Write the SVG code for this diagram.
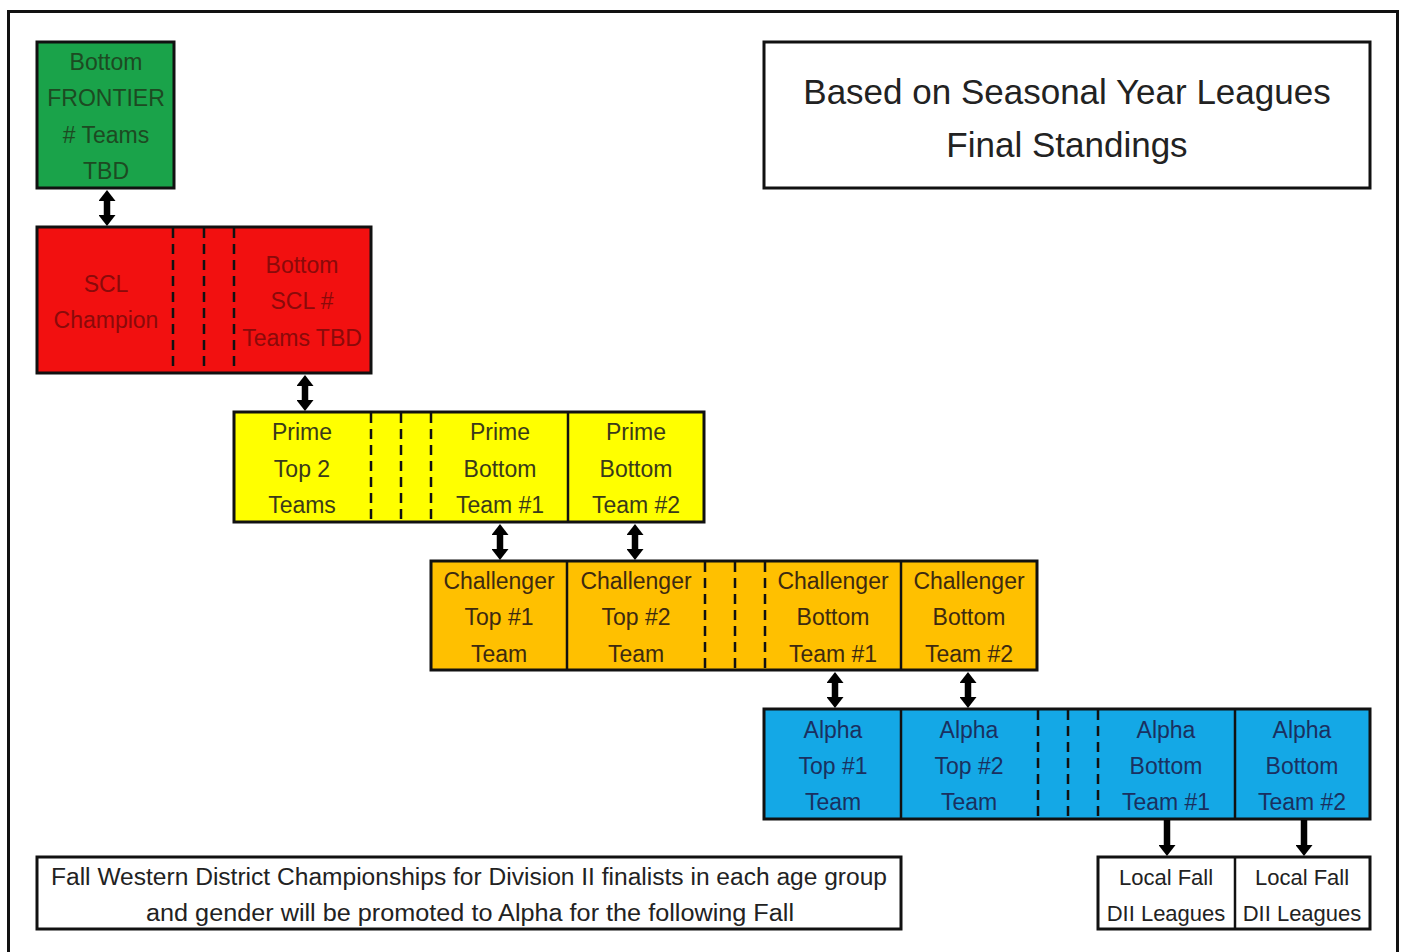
<svg xmlns="http://www.w3.org/2000/svg" width="1401" height="952" viewBox="0 0 1401 952">
<defs>
<marker id="ah" markerUnits="userSpaceOnUse" markerWidth="11" markerHeight="17" refX="0" refY="8.5" orient="auto-start-reverse">
<path d="M0,0 L11,8.5 L0,17 z" fill="#000"/>
</marker>
</defs>
<style>
.box{stroke:#111;stroke-width:3}
.div{stroke:#111;stroke-width:2.5}
.dash{stroke:#111;stroke-width:2.5;stroke-dasharray:10 6}
.t{font-family:"Liberation Sans",Arial,sans-serif;font-size:23px;text-anchor:middle}
.arr{stroke:#000;stroke-width:6.5;fill:none}
</style>
<rect x="0" y="0" width="1401" height="952" fill="#fff"/>
<rect x="8.5" y="11.5" width="1389" height="950" fill="none" stroke="#111" stroke-width="3"/>

<g id="title">
<rect class="box" x="764" y="42" width="606" height="146" fill="#fff"/>
<text class="t" x="1067" y="104" style="font-size:35px" fill="#222">Based on Seasonal Year Leagues</text>
<text class="t" x="1067" y="157" style="font-size:35px" fill="#222">Final Standings</text>
</g>

<g id="frontier">
<rect class="box" x="37" y="42" width="137" height="146" fill="#1aa34a"/>
<g class="t" fill="#1d4a22">
<text x="106" y="70">Bottom</text>
<text x="106" y="106">FRONTIER</text>
<text x="106" y="143"># Teams</text>
<text x="106" y="179">TBD</text>
</g>
</g>

<g id="scl">
<rect class="box" x="37" y="227" width="334" height="146" fill="#f21010"/>
<line class="dash" x1="173" y1="228" x2="173" y2="372"/>
<line class="dash" x1="204" y1="228" x2="204" y2="372"/>
<line class="dash" x1="234" y1="228" x2="234" y2="372"/>
<g class="t" fill="#8a0a0a">
<text x="106" y="292">SCL</text>
<text x="106" y="328">Champion</text>
<text x="302" y="273">Bottom</text>
<text x="302" y="309">SCL #</text>
<text x="302" y="346">Teams TBD</text>
</g>
</g>

<g id="prime">
<rect class="box" x="234" y="412" width="470" height="110" fill="#ffff00"/>
<line class="dash" x1="371" y1="413" x2="371" y2="521"/>
<line class="dash" x1="401" y1="413" x2="401" y2="521"/>
<line class="dash" x1="431" y1="413" x2="431" y2="521"/>
<line class="div" x1="568" y1="413" x2="568" y2="521"/>
<g class="t" fill="#3a3a1a">
<text x="302" y="440">Prime</text>
<text x="302" y="477">Top 2</text>
<text x="302" y="513">Teams</text>
<text x="500" y="440">Prime</text>
<text x="500" y="477">Bottom</text>
<text x="500" y="513">Team #1</text>
<text x="636" y="440">Prime</text>
<text x="636" y="477">Bottom</text>
<text x="636" y="513">Team #2</text>
</g>
</g>

<g id="challenger">
<rect class="box" x="431" y="561" width="606" height="109" fill="#ffc000"/>
<line class="div" x1="567" y1="562" x2="567" y2="669"/>
<line class="dash" x1="705" y1="562" x2="705" y2="669"/>
<line class="dash" x1="735" y1="562" x2="735" y2="669"/>
<line class="dash" x1="765" y1="562" x2="765" y2="669"/>
<line class="div" x1="901" y1="562" x2="901" y2="669"/>
<g class="t" fill="#3d2a10">
<text x="499" y="589">Challenger</text>
<text x="499" y="625">Top #1</text>
<text x="499" y="662">Team</text>
<text x="636" y="589">Challenger</text>
<text x="636" y="625">Top #2</text>
<text x="636" y="662">Team</text>
<text x="833" y="589">Challenger</text>
<text x="833" y="625">Bottom</text>
<text x="833" y="662">Team #1</text>
<text x="969" y="589">Challenger</text>
<text x="969" y="625">Bottom</text>
<text x="969" y="662">Team #2</text>
</g>
</g>

<g id="alpha">
<rect class="box" x="764" y="709" width="606" height="110" fill="#14a8e6"/>
<line class="div" x1="901" y1="710" x2="901" y2="818"/>
<line class="dash" x1="1038" y1="710" x2="1038" y2="818"/>
<line class="dash" x1="1068" y1="710" x2="1068" y2="818"/>
<line class="dash" x1="1098" y1="710" x2="1098" y2="818"/>
<line class="div" x1="1235" y1="710" x2="1235" y2="818"/>
<g class="t" fill="#1a3060">
<text x="833" y="738">Alpha</text>
<text x="833" y="774">Top #1</text>
<text x="833" y="810">Team</text>
<text x="969" y="738">Alpha</text>
<text x="969" y="774">Top #2</text>
<text x="969" y="810">Team</text>
<text x="1166" y="738">Alpha</text>
<text x="1166" y="774">Bottom</text>
<text x="1166" y="810">Team #1</text>
<text x="1302" y="738">Alpha</text>
<text x="1302" y="774">Bottom</text>
<text x="1302" y="810">Team #2</text>
</g>
</g>

<g id="local">
<rect class="box" x="1098" y="857" width="272" height="72" fill="#fff"/>
<line class="div" x1="1235" y1="858" x2="1235" y2="928"/>
<g class="t" fill="#222" style="font-size:22px">
<text x="1166" y="885">Local Fall</text>
<text x="1166" y="921">DII Leagues</text>
<text x="1302" y="885">Local Fall</text>
<text x="1302" y="921">DII Leagues</text>
</g>
</g>

<g id="footnote">
<rect class="box" x="37" y="857" width="864" height="72" fill="#fff"/>
<g class="t" fill="#222">
<text x="469" y="885" textLength="836" lengthAdjust="spacingAndGlyphs">Fall Western District Championships for Division II finalists in each age group</text>
<text x="470" y="921" textLength="648" lengthAdjust="spacingAndGlyphs">and gender will be promoted to Alpha for the following Fall</text>
</g>
</g>

<g id="connectors">
<line class="arr" x1="107" y1="201" x2="107" y2="215" marker-start="url(#ah)" marker-end="url(#ah)"/>
<line class="arr" x1="305" y1="386" x2="305" y2="400" marker-start="url(#ah)" marker-end="url(#ah)"/>
<line class="arr" x1="500" y1="535" x2="500" y2="549" marker-start="url(#ah)" marker-end="url(#ah)"/>
<line class="arr" x1="635" y1="535" x2="635" y2="549" marker-start="url(#ah)" marker-end="url(#ah)"/>
<line class="arr" x1="835" y1="683" x2="835" y2="697" marker-start="url(#ah)" marker-end="url(#ah)"/>
<line class="arr" x1="968" y1="683" x2="968" y2="697" marker-start="url(#ah)" marker-end="url(#ah)"/>
<line class="arr" x1="1167" y1="820" x2="1167" y2="845" marker-end="url(#ah)"/>
<line class="arr" x1="1304" y1="820" x2="1304" y2="845" marker-end="url(#ah)"/>
</g>
</svg>
